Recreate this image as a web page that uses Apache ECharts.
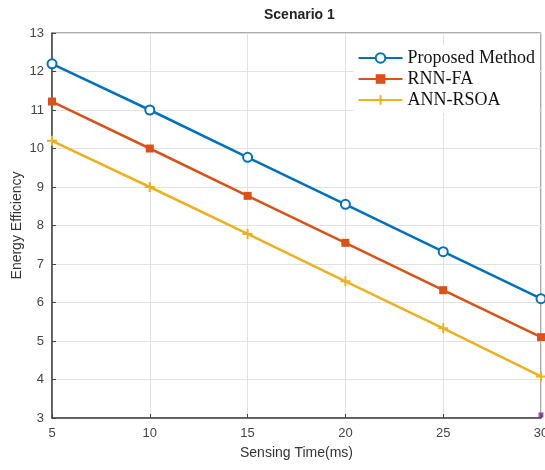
<!DOCTYPE html>
<html>
<head>
<meta charset="utf-8">
<script src="https://cdn.jsdelivr.net/npm/echarts@6/dist/echarts.min.js"></script>
<style>html,body{margin:0;padding:0;background:#fff;}#c{width:545px;height:470px;}</style>
</head>
<body>
<div id="c"></div>
<script>
var sensingTime = [5, 10, 15, 20, 25, 30];
var proposed = [12.2, 11.0, 9.77, 8.55, 7.32, 6.1];
var rnnFa = [11.22, 10.0, 8.77, 7.55, 6.32, 5.1];
var annRsoa = [10.2, 9.0, 7.78, 6.55, 5.33, 4.08];
var extraPoint = [[30, 3.08]];
var yTicks = [3, 4, 5, 6, 7, 8, 9, 10, 11, 12, 13];

function pairs(xs, ys) { return xs.map(function (x, i) { return [x, ys[i]]; }); }

var plusPath = 'path://M4,0 L6,0 L6,4 L10,4 L10,6 L6,6 L6,10 L4,10 L4,6 L0,6 L0,4 L4,4 Z';

var chart = echarts.init(document.getElementById('c'), null, {renderer: 'canvas'});
chart.setOption({
  animation: false,
  backgroundColor: '#ffffff',
  title: {
    text: 'Scenario 1',
    left: 259,
    top: 3,
    textStyle: {fontFamily: 'Liberation Sans, Arial', fontSize: 14, fontWeight: 'bold', color: '#222'}
  },
  grid: {left: 52, right: 4, top: 33, bottom: 52, show: true, borderColor: '#555', borderWidth: 1,
         backgroundColor: '#fff', containLabel: false, outerBoundsMode: 'none'},
  legend: {
    right: 6, top: 45, orient: 'vertical', itemGap: 3, itemWidth: 44, itemHeight: 12,
    textStyle: {fontFamily: 'Liberation Serif, Times New Roman', fontSize: 18, color: '#111'},
    backgroundColor: '#fff', padding: [4, 4, 4, 4],
    data: ['Proposed Method', 'RNN-FA', 'ANN-RSOA']
  },
  xAxis: {
    type: 'value', min: 5, max: 30, interval: 5,
    name: 'Sensing Time(ms)', nameLocation: 'middle', nameGap: 28, nameMoveOverlap: false,
    nameTextStyle: {fontFamily: 'Liberation Sans, Arial', fontSize: 14, color: '#333'},
    axisLine: {lineStyle: {color: '#444', width: 1.5}},
    axisTick: {inside: true, length: 4, lineStyle: {color: '#444'}},
    axisLabel: {fontFamily: 'Liberation Sans, Arial', fontSize: 13, color: '#444', margin: 9},
    splitLine: {show: true, lineStyle: {color: '#e2e2e2', width: 1}}
  },
  yAxis: {
    type: 'value', min: yTicks[0], max: yTicks[yTicks.length - 1], interval: 1,
    name: 'Energy Efficiency', nameLocation: 'middle', nameGap: 28, nameMoveOverlap: false,
    nameTextStyle: {fontFamily: 'Liberation Sans, Arial', fontSize: 14, color: '#333'},
    axisLine: {lineStyle: {color: '#444', width: 1.5}},
    axisTick: {inside: true, length: 4, lineStyle: {color: '#444'}},
    axisLabel: {fontFamily: 'Liberation Sans, Arial', fontSize: 13, color: '#444', margin: 8},
    splitLine: {show: true, lineStyle: {color: '#e2e2e2', width: 1}}
  },
  series: [
    {name: 'Proposed Method', type: 'line', data: pairs(sensingTime, proposed),
     color: '#0072BD', lineStyle: {width: 2.5}, symbol: 'emptyCircle', symbolSize: 9,
     itemStyle: {color: '#0072BD', borderWidth: 2}},
    {name: 'RNN-FA', type: 'line', data: pairs(sensingTime, rnnFa),
     color: '#D95319', lineStyle: {width: 2.5}, symbol: 'rect', symbolSize: 8,
     itemStyle: {color: '#D95319'}},
    {name: 'ANN-RSOA', type: 'line', data: pairs(sensingTime, annRsoa),
     color: '#EDB120', lineStyle: {width: 2.5}, symbol: plusPath, symbolSize: 10,
     itemStyle: {color: '#EDB120'}},
    {name: 'extra', type: 'scatter', data: extraPoint, symbol: 'rect', symbolSize: 5,
     itemStyle: {color: '#7E2F8E'}, clip: false}
  ]
});
</script>
</body>
</html>
